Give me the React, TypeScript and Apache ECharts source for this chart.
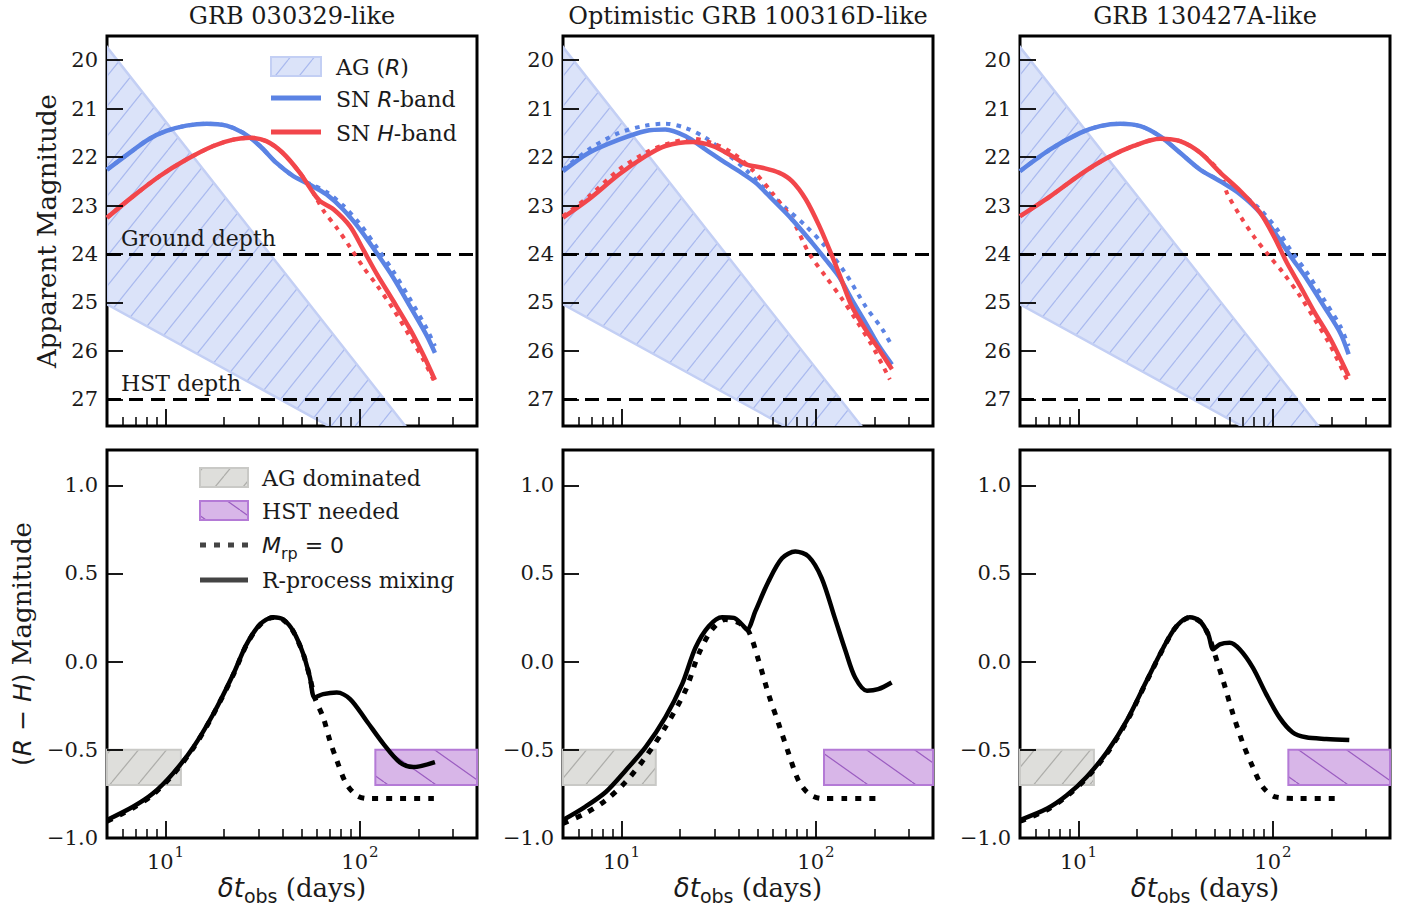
import React, { useEffect, useRef } from 'react';
import * as echarts from 'echarts';

// ---------- axes / annotations ----------
const xMin = 5;
const xMax = 400;
const majorTicks = [10, 100];
const minorTicks = [6, 7, 8, 9, 20, 30, 40, 50, 60, 70, 80, 90, 200, 300];
const magTicks = [20, 21, 22, 23, 24, 25, 26, 27];
const colorTicks = [-1, -0.5, 0, 0.5, 1];
const magMin = 19.5;
const magMax = 27.55;
const colMin = -1.0;
const colMax = 1.2;
const depthLines = [24, 27];
const depthNames = ['Ground depth', 'HST depth'];
const titles = ['GRB 030329-like', 'Optimistic GRB 100316D-like', 'GRB 130427A-like'];

// afterglow band (power-law edges, straight in log-log)
const agUpper = [[5, 19.73], [250, 28.39]];
const agLower = [[5, 25.04], [250, 28.78]];

// colour-panel boxes
const agDominatedEnd = [12, 15, 12];
const hstNeededStart = [120, 110, 120];
const boxRange = [-0.7, -0.5];

// ---------- panel 1: GRB 030329-like ----------
const p1RMix = [[5, 22.26], [6.8, 21.86], [8.2, 21.63], [10.1, 21.46], [12.8, 21.35], [16.3, 21.31], [20.6, 21.35], [25.1, 21.5], [30.6, 21.77], [37.2, 22.12], [45.4, 22.39], [55.3, 22.57], [67.3, 22.77], [82, 23.08], [100, 23.49], [122, 23.98], [148.5, 24.49], [181, 25.08], [221, 25.69], [243, 26.04]];
const p1RNoRp = [[5, 22.26], [6.8, 21.86], [8.2, 21.63], [10.1, 21.46], [12.8, 21.35], [16.3, 21.31], [20.6, 21.35], [25.1, 21.5], [30.6, 21.77], [37.2, 22.12], [45.4, 22.39], [55.3, 22.55], [67.3, 22.72], [82, 23.0], [100, 23.38], [122, 23.86], [148.5, 24.36], [181, 24.93], [221, 25.55], [243, 25.9]];
const p1HMix = [[5, 23.25], [6.8, 22.81], [9.35, 22.39], [12.8, 22.05], [17.6, 21.77], [22.3, 21.64], [27.2, 21.6], [33, 21.67], [40, 21.91], [49, 22.32], [57.6, 22.74], [62.4, 22.91], [73.3, 23.08], [89, 23.43], [104, 23.91], [122, 24.41], [148.5, 24.97], [181, 25.55], [213, 26.1], [243, 26.6]];
const p1HNoRp = [[5, 23.25], [6.8, 22.81], [9.35, 22.39], [12.8, 22.05], [17.6, 21.77], [22.3, 21.64], [27.2, 21.6], [33, 21.67], [40, 21.91], [49, 22.32], [57.6, 22.74], [64.8, 23.1], [76, 23.46], [89, 23.86], [104, 24.27], [122, 24.64], [148.5, 25.14], [181, 25.71], [213, 26.2], [243, 26.66]];
const p1Color = [[5, -0.898], [6.8, -0.823], [8.6, -0.748], [10.9, -0.635], [13.9, -0.485], [17.6, -0.297], [22.3, -0.071], [26.1, 0.098], [30.6, 0.211], [35.8, 0.252], [40.3, 0.239], [45.4, 0.173], [51.2, 0.041], [55.3, -0.09], [58.5, -0.203], [64.7, -0.184], [76, -0.175], [89, -0.212], [108, -0.335], [132, -0.466], [160, -0.57], [188, -0.598], [243, -0.57]];
const p1ColorNoRp = [[5, -0.905], [6.8, -0.83], [8.6, -0.755], [10.9, -0.642], [13.9, -0.49], [17.6, -0.3], [22.3, -0.075], [26.1, 0.095], [30.6, 0.208], [35.8, 0.25], [40.3, 0.237], [45.4, 0.171], [51.2, 0.04], [55.3, -0.09], [58.5, -0.203], [64.7, -0.316], [70, -0.447], [76, -0.56], [85, -0.692], [96, -0.758], [108, -0.776], [160, -0.776], [240, -0.776]];

// ---------- panel 2: Optimistic GRB 100316D-like ----------
const p2RMix = [[5, 22.29], [6.8, 21.91], [9.7, 21.64], [13.3, 21.46], [16.8, 21.43], [21.4, 21.57], [27, 21.84], [34.3, 22.12], [40.2, 22.29], [49, 22.53], [59.6, 22.87], [75.5, 23.29], [95.6, 23.77], [112, 24.11], [131, 24.46], [153, 24.94], [180, 25.42], [211, 25.9], [246, 26.28]];
const p2RNoRp = [[5, 22.26], [6.8, 21.84], [9.7, 21.5], [13.3, 21.35], [16.8, 21.31], [21.4, 21.4], [27, 21.6], [34.3, 21.91], [43.6, 22.26], [55, 22.67], [70, 23.05], [88.6, 23.42], [112, 23.85], [143, 24.42], [180, 25.08], [220, 25.56], [246, 25.9]];
const p2HMix = [[5, 23.25], [6.8, 22.87], [9.7, 22.36], [13.3, 21.98], [16.8, 21.77], [23.1, 21.69], [29.3, 21.77], [37.1, 21.98], [43.6, 22.15], [53, 22.22], [64.5, 22.32], [75.5, 22.5], [88.6, 22.87], [104, 23.42], [121, 24.04], [137, 24.59], [153, 25.08], [180, 25.56], [211, 25.97], [246, 26.38]];
const p2HNoRp = [[5, 23.22], [6.8, 22.81], [9.7, 22.26], [13.3, 21.91], [16.8, 21.74], [23.1, 21.62], [29.3, 21.71], [37.1, 21.91], [47, 22.26], [59.6, 22.74], [75.5, 23.29], [92, 23.98], [112, 24.46], [137, 24.94], [160, 25.35], [195, 25.9], [240, 26.59]];
const p2Color = [[5, -0.898], [6.5, -0.823], [8.3, -0.739], [10.5, -0.617], [13.3, -0.485], [16.8, -0.316], [20.5, -0.128], [24, 0.079], [28.1, 0.201], [32.9, 0.252], [37.8, 0.248], [41.6, 0.211], [44.2, 0.182], [48.8, 0.286], [57, 0.455], [66.9, 0.586], [78.3, 0.624], [91.6, 0.596], [107, 0.474], [125, 0.248], [142, 0.06], [159, -0.09], [183, -0.165], [209, -0.156], [245, -0.118]];
const p2ColorNoRp = [[5, -0.917], [6.5, -0.861], [8.3, -0.786], [10.5, -0.682], [13.3, -0.541], [16.8, -0.372], [21.3, -0.165], [24.9, 0.041], [29.2, 0.182], [34.2, 0.239], [40, 0.22], [45, 0.173], [50.8, 0.004], [57, -0.184], [64.3, -0.353], [72.5, -0.523], [81.2, -0.673], [91.6, -0.748], [107, -0.776], [142, -0.776], [219, -0.776]];

// ---------- panel 3: GRB 130427A-like ----------
const p3RMix = [[5, 22.29], [7.15, 21.84], [10.2, 21.5], [12.9, 21.36], [16.4, 21.31], [20.8, 21.36], [26.3, 21.57], [33.3, 21.91], [42.3, 22.26], [53.6, 22.5], [68, 22.77], [86, 23.15], [105, 23.63], [123, 24.04], [150, 24.53], [183, 25.08], [222, 25.63], [245, 26.07]];
const p3RNoRp = [[5, 22.29], [7.15, 21.84], [10.2, 21.5], [12.9, 21.36], [16.4, 21.31], [20.8, 21.36], [26.3, 21.57], [33.3, 21.91], [42.3, 22.26], [53.6, 22.49], [68, 22.74], [86, 23.08], [105, 23.49], [123, 23.91], [150, 24.39], [183, 24.94], [222, 25.49], [245, 25.9]];
const p3HMix = [[5, 23.22], [7.15, 22.81], [10.2, 22.36], [14, 22.02], [19.2, 21.77], [26.3, 21.62], [33.3, 21.67], [42.3, 21.91], [53.6, 22.32], [68, 22.7], [86, 23.15], [101, 23.63], [118, 24.18], [138, 24.66], [164, 25.21], [198, 25.76], [245, 26.52]];
const p3HNoRp = [[5, 23.22], [7.15, 22.81], [10.2, 22.36], [14, 22.02], [19.2, 21.77], [26.3, 21.62], [33.3, 21.67], [42.3, 21.91], [53.6, 22.32], [58, 22.74], [68, 23.22], [79.5, 23.63], [93, 23.98], [113, 24.39], [138, 24.87], [164, 25.35], [198, 25.9], [240, 26.59]];
const p3Color = [[5, -0.898], [6.9, -0.833], [8.7, -0.758], [11, -0.654], [14, -0.513], [17.7, -0.335], [22.4, -0.109], [27.3, 0.079], [31.9, 0.201], [37.4, 0.252], [42.1, 0.229], [46.5, 0.154], [49.3, 0.07], [53.3, 0.098], [59.9, 0.107], [67.4, 0.07], [78.8, -0.034], [92.3, -0.184], [108, -0.316], [126, -0.4], [148, -0.429], [188, -0.438], [247, -0.444]];
const p3ColorNoRp = [[5, -0.905], [6.9, -0.84], [8.7, -0.763], [11, -0.66], [14, -0.52], [17.7, -0.34], [22.4, -0.112], [27.3, 0.076], [31.9, 0.2], [37.4, 0.25], [42.1, 0.228], [46.5, 0.154], [49.3, 0.07], [55.5, -0.109], [62.3, -0.297], [70.2, -0.466], [78.8, -0.598], [88.7, -0.711], [103, -0.767], [137, -0.776], [219, -0.776]];

const rMix = [p1RMix, p2RMix, p3RMix];
const rNoRp = [p1RNoRp, p2RNoRp, p3RNoRp];
const hMix = [p1HMix, p2HMix, p3HMix];
const hNoRp = [p1HNoRp, p2HNoRp, p3HNoRp];
const colorMix = [p1Color, p2Color, p3Color];
const colorNoRp = [p1ColorNoRp, p2ColorNoRp, p3ColorNoRp];

// ---------- styling ----------
const BLUE = '#5b83e4';
const RED = '#f2464b';
const INK = '#1a1a1a';
const SERIF = 'DejaVu Serif';
const SANS = 'DejaVu Sans';
const gridLeft = [107, 563, 1020];
const gridW = 370;

function hatch(w: number, h: number, bg: string, fg: string, lw: number, back: boolean) {
  const c = document.createElement('canvas');
  c.width = w;
  c.height = h;
  const ctx = c.getContext('2d') as CanvasRenderingContext2D;
  ctx.fillStyle = bg;
  ctx.fillRect(0, 0, w, h);
  ctx.strokeStyle = fg;
  ctx.lineWidth = lw;
  for (const dx of [-w, 0, w]) {
    ctx.beginPath();
    if (!back) {
      ctx.moveTo(dx, h);
      ctx.lineTo(dx + w, 0);
    } else {
      ctx.moveTo(dx, 0);
      ctx.lineTo(dx + w, h);
    }
    ctx.stroke();
  }
  return { image: c, repeat: 'repeat', imageWidth: w, imageHeight: h } as any;
}

export default function App() {
  const ref = useRef<HTMLDivElement>(null);

  useEffect(() => {
    if (!ref.current) return;
    const chart = echarts.init(ref.current, undefined, { renderer: 'svg' });

    const agPattern = hatch(24, 30, '#dbe3f9', '#a9b9ee', 1.2, false);
    const greyPattern = hatch(28, 34, '#dededb', '#adadaa', 1.2, false);
    const purplePattern = hatch(48, 34, '#d8b6e8', '#9a5cc0', 1.2, true);
    const AG_EDGE = '#c3cff4';

    const grids: any[] = [];
    const xAxes: any[] = [];
    const yAxes: any[] = [];
    for (let g = 0; g < 6; g++) {
      const row = g < 3 ? 0 : 1;
      const col = g % 3;
      grids.push({
        left: gridLeft[col],
        width: gridW,
        top: row === 0 ? 36 : 450,
        height: row === 0 ? 390 : 388,
        show: true,
        borderColor: '#000',
        borderWidth: 3,
        backgroundColor: 'transparent',
        containLabel: false,
        z: 0,
      });
      xAxes.push({
        type: 'log',
        logBase: 10,
        gridIndex: g,
        position: 'bottom',
        min: xMin,
        max: xMax,
        z: 12,
        axisLine: { show: false, onZero: false },
        splitLine: { show: false },
        minorTick: { show: false },
        axisTick: { show: true, inside: true, length: 17, customValues: majorTicks, lineStyle: { color: '#000', width: 1.8 } },
        axisLabel: {
          show: row === 1,
          customValues: majorTicks,
          margin: 6,
          formatter: (v: number) => `{b|10}{s|${Math.round(Math.log10(v))}}`,
          rich: {
            b: { fontFamily: SERIF, fontSize: 21, color: INK, lineHeight: 28, verticalAlign: 'bottom' },
            s: { fontFamily: SERIF, fontSize: 15, color: INK, lineHeight: 28, verticalAlign: 'top', padding: [0, 0, 0, 1] },
          },
        },
      });
      xAxes.push({
        type: 'log',
        logBase: 10,
        gridIndex: g,
        position: 'bottom',
        min: xMin,
        max: xMax,
        z: 12,
        axisLine: { show: false, onZero: false },
        splitLine: { show: false },
        axisLabel: { show: false },
        axisTick: { show: true, inside: true, length: 9, customValues: minorTicks, lineStyle: { color: '#000', width: 1.5 } },
      });
      yAxes.push({
        type: 'value',
        gridIndex: g,
        inverse: row === 0,
        min: row === 0 ? magMin : colMin,
        max: row === 0 ? magMax : colMax,
        z: 12,
        axisLine: { show: false, onZero: false },
        splitLine: { show: false },
        axisTick: { show: true, inside: true, length: 16, customValues: row === 0 ? magTicks : colorTicks, lineStyle: { color: '#000', width: 1.8 } },
        axisLabel: {
          customValues: row === 0 ? magTicks : colorTicks,
          margin: 9,
          fontFamily: SERIF,
          fontSize: 21,
          color: INK,
          formatter: (v: number) => (row === 0 ? String(v) : v.toFixed(1).replace('-', '\u2212')),
        },
      });
    }

    const series: any[] = [];
    for (let i = 0; i < 3; i++) {
      const xi = 2 * i;
      // afterglow band polygon
      series.push({
        type: 'custom',
        coordinateSystem: 'cartesian2d',
        xAxisIndex: xi,
        yAxisIndex: i,
        clip: true,
        silent: true,
        z: 1,
        data: [agUpper[0]],
        renderItem: (_params: any, api: any) => {
          const pts = [...agUpper, ...agLower.slice().reverse()].map((p) => api.coord(p));
          return {
            type: 'polygon',
            shape: { points: pts },
            style: { fill: agPattern, stroke: AG_EDGE, lineWidth: 2.5 },
          };
        },
      });
      const curve = (data: number[][], color: string, dotted: boolean) => ({
        type: 'line',
        xAxisIndex: xi,
        yAxisIndex: i,
        data,
        symbol: 'none',
        smooth: 0.3,
        silent: true,
        z: 10,
        lineStyle: dotted ? { color, width: 4, type: [4.5, 6] } : { color, width: 4.5 },
      });
      const first: any = curve(rNoRp[i], BLUE, true);
      first.markLine = {
        silent: true,
        symbol: ['none', 'none'],
        z: 5,
        lineStyle: { color: '#000', width: 3, type: [14, 8] },
        label: {
          show: i === 0,
          position: 'insideStartTop',
          formatter: '{b}',
          fontFamily: SERIF,
          fontSize: 22,
          color: INK,
          distance: [14, 5],
        },
        data: depthLines.map((d, k) => ({ yAxis: d, name: depthNames[k] })),
      };
      series.push(first);
      series.push(curve(hNoRp[i], RED, true));
      series.push(curve(rMix[i], BLUE, false));
      series.push(curve(hMix[i], RED, false));

      // colour panel
      const g = 3 + i;
      series.push({
        type: 'line',
        xAxisIndex: 2 * g,
        yAxisIndex: g,
        data: colorNoRp[i],
        symbol: 'none',
        smooth: 0.3,
        silent: true,
        z: 10,
        lineStyle: { color: '#000', width: 5, type: [6, 8] },
        markArea: {
          silent: true,
          z: 1,
          data: [
            [
              { xAxis: xMin, yAxis: boxRange[0], itemStyle: { color: greyPattern, borderColor: '#c9c9c6', borderWidth: 2 } },
              { xAxis: agDominatedEnd[i], yAxis: boxRange[1] },
            ],
            [
              { xAxis: hstNeededStart[i], yAxis: boxRange[0], itemStyle: { color: purplePattern, borderColor: '#b47ad6', borderWidth: 2 } },
              { xAxis: xMax, yAxis: boxRange[1] },
            ],
          ],
        },
      });
      series.push({
        type: 'line',
        xAxisIndex: 2 * g,
        yAxisIndex: g,
        data: colorMix[i],
        symbol: 'none',
        smooth: 0.3,
        silent: true,
        z: 11,
        lineStyle: { color: '#000', width: 4.5 },
      });
    }

    const centers = gridLeft.map((l) => l + gridW / 2);
    const italic = { fontFamily: SANS, fontStyle: 'italic' };
    const graphic: any[] = [];
    titles.forEach((t, k) => {
      graphic.push({ type: 'text', z: 100, x: centers[k], y: 16, style: { text: t, fontFamily: SERIF, fontSize: 24, fill: INK, align: 'center', verticalAlign: 'middle' } });
      graphic.push({
        type: 'text',
        z: 100,
        x: centers[k],
        y: 888,
        style: {
          text: '{i|\u03B4t}{sub|obs}{n| (days)}',
          align: 'center',
          verticalAlign: 'middle',
          fill: INK,
          rich: {
            i: { ...italic, fontSize: 26, lineHeight: 34, verticalAlign: 'middle', fill: INK },
            sub: { fontFamily: SANS, fontSize: 19, lineHeight: 34, verticalAlign: 'bottom', fill: INK },
            n: { fontFamily: SERIF, fontSize: 26, lineHeight: 34, verticalAlign: 'middle', fill: INK },
          },
        },
      });
    });
    graphic.push({ type: 'text', z: 100, x: 47, y: 231, rotation: Math.PI / 2, style: { text: 'Apparent Magnitude', fontFamily: SERIF, fontSize: 26, fill: INK, align: 'center', verticalAlign: 'middle' } });
    graphic.push({
      type: 'text',
      z: 100,
      x: 22,
      y: 644,
      rotation: Math.PI / 2,
      style: {
        text: '{m|(}{i|R}{m| \u2212 }{i|H}{m|)}{n| Magnitude}',
        align: 'center',
        verticalAlign: 'middle',
        rich: {
          m: { fontFamily: SANS, fontSize: 25, fill: INK },
          i: { ...italic, fontSize: 25, fill: INK },
          n: { fontFamily: SERIF, fontSize: 26, fill: INK },
        },
      },
    });

    const legText = (x: number, y: number, text: string) => ({
      type: 'text',
      z: 100,
      x,
      y,
      style: {
        text,
        fontFamily: SERIF,
        fontSize: 22,
        fill: INK,
        verticalAlign: 'middle',
        rich: {
          i: { ...italic, fontSize: 22, fill: INK },
          sub: { fontFamily: SANS, fontSize: 16, fill: INK, verticalAlign: 'bottom', lineHeight: 32 },
          m: { fontFamily: SANS, fontSize: 22, fill: INK },
        },
      },
    });
    // legend, top-left panel
    graphic.push({ type: 'rect', z: 100, shape: { x: 271, y: 57, width: 50, height: 19 }, style: { fill: agPattern, stroke: AG_EDGE, lineWidth: 2 } });
    graphic.push(legText(336, 67, 'AG ({i|R})'));
    graphic.push({ type: 'line', z: 100, shape: { x1: 271, y1: 98, x2: 321, y2: 98 }, style: { stroke: BLUE, lineWidth: 5 } });
    graphic.push(legText(336, 99, 'SN {i|R}-band'));
    graphic.push({ type: 'line', z: 100, shape: { x1: 271, y1: 132, x2: 321, y2: 132 }, style: { stroke: RED, lineWidth: 5 } });
    graphic.push(legText(336, 133, 'SN {i|H}-band'));

    // legend, bottom-left panel
    graphic.push({ type: 'rect', z: 100, shape: { x: 200, y: 468, width: 48, height: 19 }, style: { fill: greyPattern, stroke: '#c9c9c6', lineWidth: 2 } });
    graphic.push(legText(262, 478, 'AG dominated'));
    graphic.push({ type: 'rect', z: 100, shape: { x: 200, y: 501, width: 48, height: 19 }, style: { fill: purplePattern, stroke: '#b47ad6', lineWidth: 2 } });
    graphic.push(legText(262, 511, 'HST needed'));
    graphic.push({ type: 'line', z: 100, shape: { x1: 200, y1: 545, x2: 248, y2: 545 }, style: { stroke: '#444', lineWidth: 5, lineDash: [6, 8] } });
    graphic.push(legText(262, 545, '{i|M}{sub|rp}{m| = 0}'));
    graphic.push({ type: 'line', z: 100, shape: { x1: 200, y1: 580, x2: 248, y2: 580 }, style: { stroke: '#444', lineWidth: 5 } });
    graphic.push(legText(262, 580, 'R-process mixing'));

    chart.setOption({
      animation: false,
      backgroundColor: '#fff',
      grid: grids,
      xAxis: xAxes,
      yAxis: yAxes,
      series,
      graphic,
    });

    return () => chart.dispose();
  }, []);

  return <div ref={ref} style={{ position: 'fixed', left: 0, top: 0, width: 1413, height: 909, background: '#fff' }} />;
}
